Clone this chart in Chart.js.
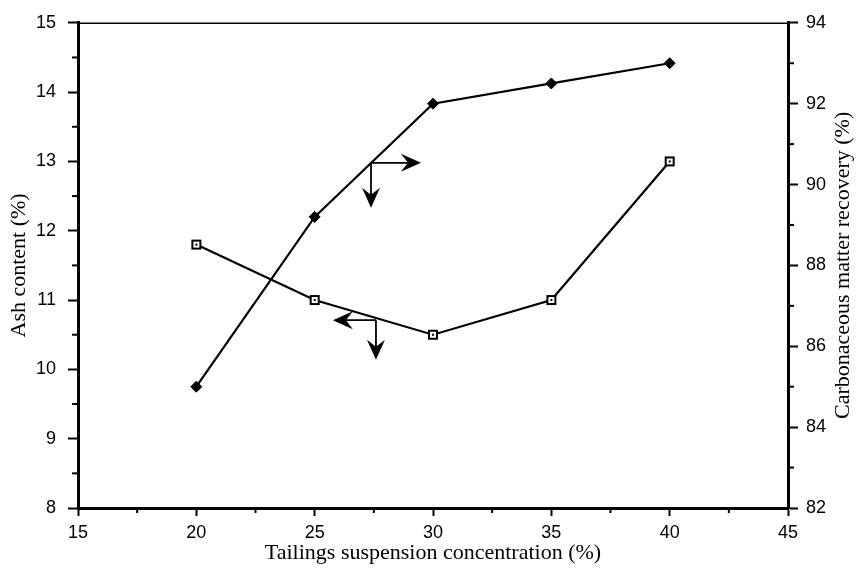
<!DOCTYPE html>
<html>
<head>
<meta charset="utf-8">
<script src="https://cdn.jsdelivr.net/npm/chart.js@4/dist/chart.umd.min.js"></script>
<style>
html,body{margin:0;padding:0;background:#fff;}
#wrap{width:856px;height:573px;}
</style>
</head>
<body>
<div id="wrap"><canvas id="c" width="856" height="573"></canvas></div>
<script>
// ---- data ----
const concentration = [20, 25, 30, 35, 40];
const ashContent = [11.8, 11.0, 10.5, 11.0, 13.0];
const recovery = [85.0, 89.2, 92.0, 92.5, 93.0];
const xTickValues = [15, 20, 25, 30, 35, 40, 45];
const ashTickValues = [8, 9, 10, 11, 12, 13, 14, 15];
const recoveryTickValues = [82, 84, 86, 88, 90, 92, 94];
const xTitle = 'Tailings suspension concentration (%)';
const ashTitle = 'Ash content (%)';
const recoveryTitle = 'Carbonaceous matter recovery (%)';

// arrow annotations (data units: x, left-axis y)
const arrowJunctions = [[27.38, 12.98], [27.59, 10.71]];
const arrowHorizontalTips = [29.49, 25.77];
const arrowVerticalTips = [12.33, 10.14];

// ---- styling helpers ----
const tickFont = {family: "'Liberation Sans', Arial, sans-serif", size: 18};
const titleFont = {family: "'Liberation Serif', 'Times New Roman', serif", size: 22};

function squareMarker() {
  const s = 12;
  const cv = document.createElement('canvas');
  cv.width = s; cv.height = s;
  const g = cv.getContext('2d');
  g.fillStyle = '#fff';
  g.fillRect(1, 1, s - 2, s - 2);
  g.strokeStyle = '#000';
  g.lineWidth = 2;
  g.strokeRect(2, 2, s - 4, s - 4);
  g.fillStyle = '#000';
  g.fillRect(5, 5, 2, 2);
  return cv;
}

const extrasPlugin = {
  id: 'extras',
  afterDraw(chart) {
    const ctx = chart.ctx;
    const a = chart.chartArea;
    const xs = chart.scales.x, ys = chart.scales.y, y1 = chart.scales.y1;
    ctx.save();
    ctx.strokeStyle = '#000';
    ctx.fillStyle = '#000';
    // top frame line
    ctx.lineWidth = 1.5;
    ctx.beginPath();
    ctx.moveTo(a.left, a.top + 0.5);
    ctx.lineTo(a.right, a.top + 0.5);
    ctx.stroke();
    // minor ticks
    ctx.lineWidth = 2;
    for (let i = 0; i < ashTickValues.length - 1; i++) {
      const v = (ashTickValues[i] + ashTickValues[i + 1]) / 2;
      const p = ys.getPixelForValue(v);
      ctx.beginPath(); ctx.moveTo(a.left - 6, p); ctx.lineTo(a.left, p); ctx.stroke();
    }
    for (let i = 0; i < recoveryTickValues.length - 1; i++) {
      const v = (recoveryTickValues[i] + recoveryTickValues[i + 1]) / 2;
      const p = y1.getPixelForValue(v);
      ctx.beginPath(); ctx.moveTo(a.right, p); ctx.lineTo(a.right + 6, p); ctx.stroke();
    }
    for (let i = 0; i < xTickValues.length - 1; i++) {
      const v = (xTickValues[i] + xTickValues[i + 1]) / 2;
      const p = xs.getPixelForValue(v);
      ctx.beginPath(); ctx.moveTo(p, a.bottom); ctx.lineTo(p, a.bottom + 5); ctx.stroke();
    }
    // right axis title, reading bottom-to-top
    ctx.save();
    ctx.translate(843, (a.top + a.bottom) / 2);
    ctx.rotate(-Math.PI / 2);
    ctx.font = titleFont.size + 'px ' + titleFont.family;
    ctx.textAlign = 'center';
    ctx.textBaseline = 'middle';
    ctx.fillText(recoveryTitle, 0, 0);
    ctx.restore();
    // arrows
    function head(tx, ty, dx, dy) {
      const L = 20, W = 9, N = 13;
      const px = -dy, py = dx;
      ctx.beginPath();
      ctx.moveTo(tx, ty);
      ctx.lineTo(tx - dx * L + px * W, ty - dy * L + py * W);
      ctx.lineTo(tx - dx * N, ty - dy * N);
      ctx.lineTo(tx - dx * L - px * W, ty - dy * L - py * W);
      ctx.closePath();
      ctx.fill();
    }
    ctx.lineWidth = 1.8;
    arrowJunctions.forEach((j, i) => {
      const jx = xs.getPixelForValue(j[0]);
      const jy = ys.getPixelForValue(j[1]);
      const hx = xs.getPixelForValue(arrowHorizontalTips[i]);
      const vy = ys.getPixelForValue(arrowVerticalTips[i]);
      const dir = hx > jx ? 1 : -1;
      ctx.beginPath();
      ctx.moveTo(jx, jy); ctx.lineTo(hx - dir * 12, jy);
      ctx.moveTo(jx, jy); ctx.lineTo(jx, vy - 12);
      ctx.stroke();
      head(hx, jy, dir, 0);
      head(jx, vy, 0, 1);
    });
    ctx.restore();
  }
};

new Chart(document.getElementById('c'), {
  type: 'line',
  data: {
    datasets: [
      {
        label: 'Ash content',
        data: concentration.map((x, i) => ({x: x, y: ashContent[i]})),
        yAxisID: 'y',
        borderColor: '#000',
        borderWidth: 2.2,
        pointStyle: squareMarker(),
        pointRadius: 6,
        tension: 0,
        fill: false
      },
      {
        label: 'Carbonaceous matter recovery',
        data: concentration.map((x, i) => ({x: x, y: recovery[i]})),
        yAxisID: 'y1',
        borderColor: '#000',
        backgroundColor: '#000',
        borderWidth: 2.2,
        pointStyle: 'rectRot',
        pointRadius: 5.5,
        pointBorderWidth: 1,
        pointBackgroundColor: '#000',
        tension: 0,
        fill: false
      }
    ]
  },
  options: {
    responsive: false,
    animation: false,
    devicePixelRatio: 1,
    layout: {padding: {top: 19, left: 0, right: 0, bottom: 0}},
    plugins: {legend: {display: false}, tooltip: {enabled: false}},
    scales: {
      x: {
        type: 'linear',
        min: 15, max: 45,
        afterBuildTicks: s => { s.ticks = xTickValues.map(v => ({value: v})); },
        ticks: {font: tickFont, color: '#000', padding: 6, maxRotation: 0},
        grid: {drawOnChartArea: false, drawTicks: true, tickLength: 8, tickWidth: 2, tickColor: '#000'},
        border: {display: true, color: '#000', width: 3},
        title: {display: true, text: xTitle, font: titleFont, color: '#000', padding: {top: 0, bottom: 7}},
        afterFit: s => { s.height = 65; }
      },
      y: {
        type: 'linear',
        position: 'left',
        min: 8, max: 15,
        afterBuildTicks: s => { s.ticks = ashTickValues.map(v => ({value: v})); },
        ticks: {font: tickFont, color: '#000', padding: 12},
        grid: {drawOnChartArea: false, drawTicks: true, tickLength: 10, tickWidth: 2, tickColor: '#000'},
        border: {display: true, color: '#000', width: 3},
        title: {display: true, text: ashTitle, font: titleFont, color: '#000', padding: {top: 6, bottom: 0}},
        afterFit: s => { s.width = 78; }
      },
      y1: {
        type: 'linear',
        position: 'right',
        min: 82, max: 94,
        afterBuildTicks: s => { s.ticks = recoveryTickValues.map(v => ({value: v})); },
        ticks: {font: tickFont, color: '#000', padding: 8},
        grid: {drawOnChartArea: false, drawTicks: true, tickLength: 10, tickWidth: 2, tickColor: '#000'},
        border: {display: true, color: '#000', width: 3},
        title: {display: false},
        afterFit: s => { s.width = 68; }
      }
    }
  },
  plugins: [extrasPlugin]
});
</script>
</body>
</html>
